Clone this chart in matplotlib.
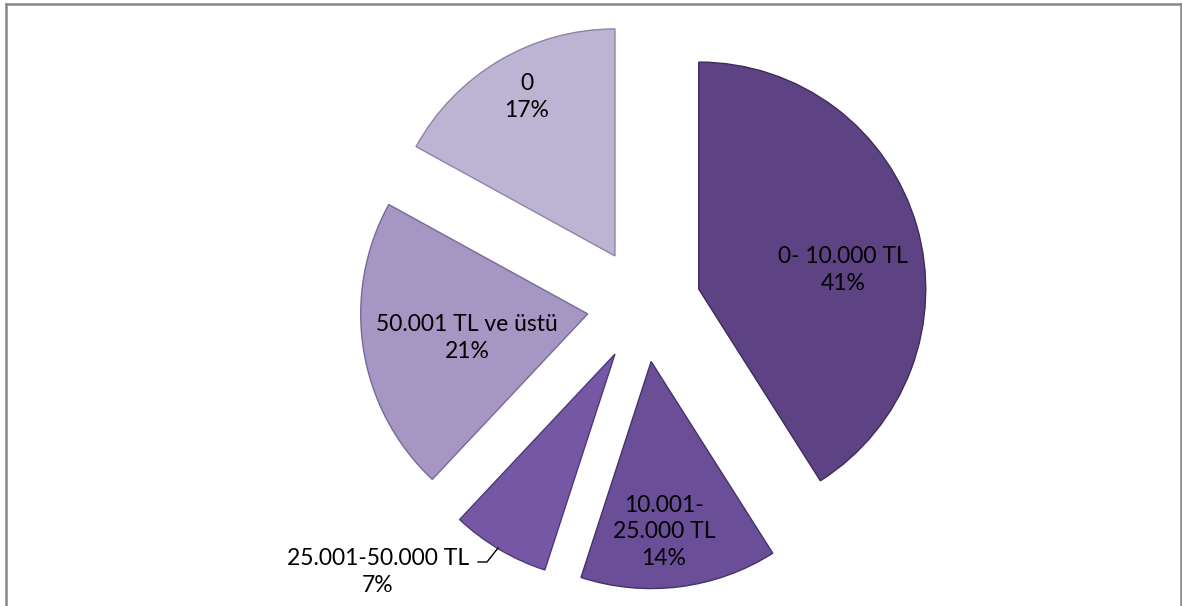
import matplotlib.pyplot as plt
from matplotlib.lines import Line2D

labels = ['0- 10.000 TL', '10.001-\n25.000 TL', '25.001-50.000 TL', '50.001 TL ve üstü', '0']
shares = [41, 14, 7, 21, 17]
colors = ['#5d4383', '#6a4f98', '#7657a6', '#a596c4', '#bdb3d3']
edges = ['#3e2b5c', '#45326a', '#4e3a73', '#786a98', '#8e84a6']

W, H = 1182, 606
fig = plt.figure(figsize=(W / 100, H / 100), dpi=100)
ax = fig.add_axes([0, 0, 1, 1])

# pie in pixel units so it lands where the original is
# (explode is in data units, not a fraction of the radius)
R = 227
cx, cy = 644, H - 305
wedges, _ = ax.pie(shares, startangle=90, counterclock=False, radius=R,
                   center=(cx, cy), explode=[57] * len(shares),
                   colors=colors, frame=True,
                   wedgeprops=dict(linewidth=1.0))
for w, ec in zip(wedges, edges):
    w.set_edgecolor(ec)

ax.set_xlim(0, W)
ax.set_ylim(0, H)
ax.set_aspect('equal')
ax.axis('off')

# label centres (px, from top)
label_pos = [(843, 270), (664, 532), (378, 572), (467, 338), (527, 97)]
for lab, val, (x, y) in zip(labels, shares, label_pos):
    ax.text(x, H - y, f'{lab}\n{val}%', ha='center', va='center',
            fontsize=16.5, family='Lato', color='black', linespacing=1.3)

# leader line for the small slice
ax.plot([478, 487, 498], [H - 562, H - 562, H - 548], color='black', lw=1)

# outer grey frame (bottom edge is cut off)
for xs, ys in [([5.5, 5.5], [0, H - 3.5]), ([5.5, 1180.5], [H - 3.5, H - 3.5]),
               ([1180.5, 1180.5], [H - 3.5, 0])]:
    fig.add_artist(Line2D([x / W for x in xs], [y / H for y in ys],
                          color='#888888', lw=1.8))

fig.savefig('out.png', dpi=100)
